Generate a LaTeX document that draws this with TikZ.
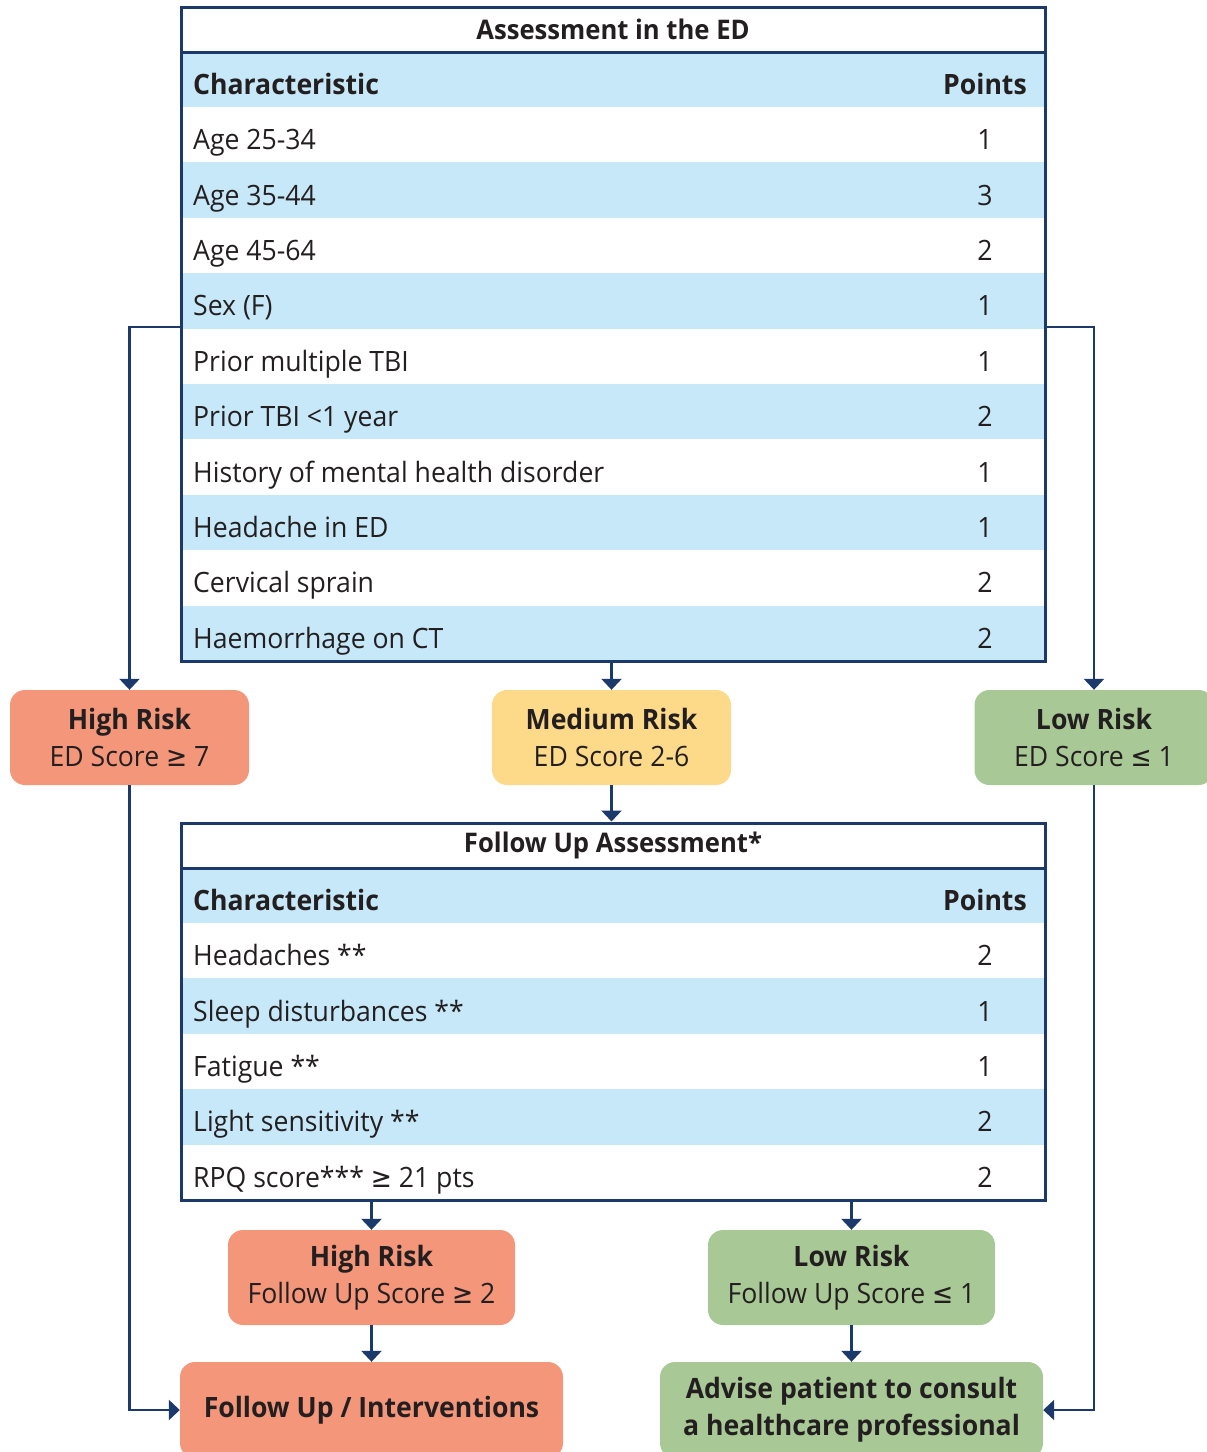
\documentclass[tikz,border=0pt]{standalone}
\usepackage{fontspec}
\setmainfont{Open Sans}[FakeStretch=0.95]
\newfontfamily\symf{DejaVu Sans}[FakeStretch=0.9]
\usetikzlibrary{arrows.meta}
\definecolor{navy}{HTML}{1B3A6B}
\definecolor{rowblue}{HTML}{C6E8F8}
\definecolor{salmon}{HTML}{F4967A}
\definecolor{sand}{HTML}{FDD98A}
\definecolor{sage}{HTML}{A8C996}
\definecolor{ink}{HTML}{231F20}
\newcommand{\geqs}{{\symf ≥}}
\newcommand{\leqs}{{\symf ≤}}

\tikzset{
  frame/.style={draw=navy,line width=3pt,minimum width=864pt,inner sep=0pt},
  title/.style={frame,minimum height=45pt,font=\fontsize{27}{32}\selectfont\bfseries},
  cell/.style={inner sep=0pt},
  risk/.style={rounded corners=15pt,minimum height=95pt,align=center,inner sep=0pt,
    font=\fontsize{28}{37}\selectfont},
  arr/.style={navy,line width=2.5pt,-{Triangle[width=20pt,length=11pt]}}
}

\begin{document}
\begin{tikzpicture}[x=1pt,y=-1pt,text=ink,font=\fontsize{28}{34}\selectfont]
\useasboundingbox (0,0) rectangle (1207,1452);

% ED table
\fill[rowblue] (181,52) rectangle (1045,107);
\node[cell,anchor=base west,font=\fontsize{28}{34}\selectfont\bfseries] (hdC) at (193,94) {Characteristic};
\node[cell,anchor=base,font=\fontsize{28}{34}\selectfont\bfseries] (hdP) at (985,94) {Points};
\foreach [count=\i] \c/\p in {Age 25-34/1, Age 35-44/3, Age 45-64/2, Sex (F)/1, Prior multiple TBI/1, Prior TBI <1 year/2, History of mental health disorder/1, Headache in ED/1, Cervical sprain/2, Haemorrhage on CT/2}
{
  \pgfmathsetmacro\y{107+(\i-0.5)*55.4}
  \ifodd\i \def\bg{white}\else \def\bg{rowblue}\fi
  \fill[\bg] (181,\y-27.7) rectangle (1045,\y+27.7);
  \node[cell,anchor=base west] (c\i) at (193,\y+15) {\c};
  \node[cell,anchor=base] (p\i) at (985,\y+15) {\p};
}
\node[title] (ttlED) at (613,29.5) {Assessment in the ED};
\node[frame,minimum height=654pt] (tabED) at (613,334) {};

% risk after ED
\node[risk,fill=salmon,minimum width=239pt] (hiED) at (129.5,737.5) {\textbf{High Risk}\\ED Score \geqs{} 7};
\node[risk,fill=sand,minimum width=239pt] (medED) at (611.5,737.5) {\textbf{Medium Risk}\\ED Score 2-6};
\node[risk,fill=sage,minimum width=239pt] (loED) at (1094,737.5) {\textbf{Low Risk}\\ED Score \leqs{} 1};

% follow up table
\fill[rowblue] (181,868) rectangle (1045,923);
\node[cell,anchor=base west,font=\fontsize{28}{34}\selectfont\bfseries] (fhdC) at (193,910) {Characteristic};
\node[cell,anchor=base,font=\fontsize{28}{34}\selectfont\bfseries] (fhdP) at (985,910) {Points};
\foreach [count=\i] \c/\p in {Headaches **/2, Sleep disturbances **/1, Fatigue **/1, Light sensitivity **/2, RPQ score*** \geqs{} 21 pts/2}
{
  \pgfmathsetmacro\y{923+(\i-0.5)*55.4}
  \ifodd\i \def\bg{white}\else \def\bg{rowblue}\fi
  \fill[\bg] (181,\y-27.7) rectangle (1045,\y+27.7);
  \node[cell,anchor=base west] (fc\i) at (193,\y+15) {\c};
  \node[cell,anchor=base] (fp\i) at (985,\y+15) {\p};
}
\node[title] (ttlFU) at (613,845.5) {Follow Up Assessment*};
\node[frame,minimum height=377pt] (tabFU) at (613,1011.5) {};

% risk after follow up
\node[risk,fill=salmon,minimum width=287pt] (hiFU) at (371.5,1277.5) {\textbf{High Risk}\\Follow Up Score \geqs{} 2};
\node[risk,fill=sage,minimum width=287pt] (loFU) at (851.5,1277.5) {\textbf{Low Risk}\\Follow Up Score \leqs{} 1};
\node[risk,fill=salmon,minimum width=383pt,minimum height=96pt,font=\fontsize{28}{37}\selectfont\bfseries] (actHi) at (371.5,1410) {Follow Up / Interventions};
\node[risk,fill=sage,minimum width=383pt,minimum height=96pt,font=\fontsize{28}{37}\selectfont\bfseries] (actLo) at (851.5,1410) {Advise patient to consult\\a healthcare professional};

% connectors
\draw[arr] ([yshift=7pt]tabED.west) -| (hiED.north);
\draw[arr] ([yshift=7pt]tabED.east) -| (loED.north);
\draw[arr] (medED.north |- tabED.south) -- (medED.north);
\draw[arr] (medED.south) -- (medED.south |- tabFU.north);
\draw[arr] (hiFU.north |- tabFU.south) -- (hiFU.north);
\draw[arr] (loFU.north |- tabFU.south) -- (loFU.north);
\draw[arr] (hiFU) -- (actHi);
\draw[arr] (loFU) -- (actLo);
\draw[arr] (hiED.south) |- (actHi.west);
\draw[arr] (loED.south) |- (actLo.east);

\end{tikzpicture}
\end{document}
